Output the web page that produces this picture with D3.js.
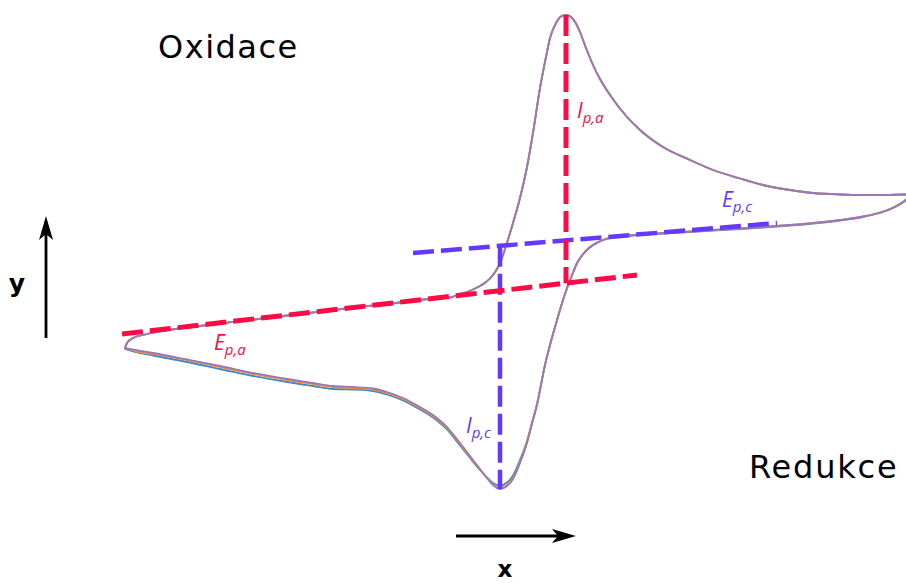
<!DOCTYPE html>
<html>
<head>
<meta charset="utf-8">
<script src="https://cdn.jsdelivr.net/npm/d3@7"></script>
<style>
  html, body { margin: 0; padding: 0; background: #ffffff; }
  svg { display: block; }
</style>
</head>
<body>
<svg id="chart" width="906" height="583"></svg>
<script>
// Cyclic voltammogram: potential E (mV) against current I (µA), three cycles.

// Forward (anodic) sweep, shared by all cycles
const anodicE = [-200, -198, -192, -178, -125, -75, -25, 25, 75, 105, 125, 135, 142, 148, 155, 161, 165, 172, 175, 180,
  188, 195, 202, 208, 215, 221, 225, 231, 236, 241, 246, 251, 255, 261, 268, 275, 285, 302, 315, 338,
  365, 388, 415, 438, 465, 488, 515, 538, 560, 580, 585];
const anodicI = [-9.8, -9.3, -8.8, -8.4, -7.6, -7.0, -6.4, -5.8, -5.25, -4.9, -4.75, -4.4, -4.2, -3.95, -3.6, -3.2, -2.85, -1.9, -1.3, 0.1,
  2.7, 5.2, 8.3, 11.7, 16.2, 19.3, 21.2, 22.7, 23.35, 23.5, 23.3, 22.65, 21.8, 20.2, 18.5, 17.1, 15.5, 13.3, 12.0, 10.3,
  9.0, 8.0, 7.15, 6.5, 6.0, 5.7, 5.55, 5.5, 5.5, 5.55, 5.45];

// Reverse (cathodic) sweep, one current trace per cycle
const cathodicE = [585, 580, 573, 565, 553, 538, 515, 488, 465, 438, 415, 388, 365, 338, 315, 295, 282, 273, 265, 258,
  252, 247, 242, 237, 232, 225, 220, 212, 207, 202, 195, 188, 182, 175, 168, 162, 155, 145, 135, 128,
  122, 112, 102, 95, 78, 62, 48, 28, 8, -12, -38, -72, -105, -138, -172, -190, -200];
const cathodicI1 = [5.45, 4.9, 4.45, 4.05, 3.65, 3.3, 2.95, 2.65, 2.45, 2.25, 2.1, 1.95, 1.8, 1.65, 1.5, 1.3, 1.1, 0.75, 0.25, -0.45,
  -1.35, -2.55, -3.85, -5.35, -7.05, -9.5, -11.5, -15.4, -17.25, -19.1, -21.0, -22.55, -23.25, -23.55, -23.3, -22.75, -22.0, -20.8, -19.55, -18.65,
  -17.95, -17.05, -16.35, -15.95, -15.05, -14.45, -14.1, -13.95, -13.9, -13.6, -13.2, -12.6, -11.9, -11.2, -10.55, -10.2, -9.9];
const cathodicI2 = [5.45, 4.95, 4.5, 4.1, 3.7, 3.35, 3.0, 2.7, 2.5, 2.3, 2.15, 2.0, 1.85, 1.7, 1.55, 1.35, 1.15, 0.8, 0.3, -0.4,
  -1.3, -2.5, -3.8, -5.3, -7.0, -9.5, -11.5, -15.45, -17.35, -19.2, -21.2, -22.8, -23.5, -23.8, -23.45, -22.8, -21.95, -20.7, -19.4, -18.5,
  -17.8, -16.9, -16.2, -15.8, -14.9, -14.3, -13.95, -13.8, -13.7, -13.4, -13.0, -12.4, -11.7, -11.0, -10.4, -10.1, -9.85];
const cathodicI3 = [5.45, 4.95, 4.5, 4.1, 3.7, 3.35, 3.0, 2.7, 2.5, 2.3, 2.15, 2.0, 1.85, 1.7, 1.55, 1.35, 1.15, 0.8, 0.3, -0.4,
  -1.3, -2.5, -3.8, -5.3, -7.0, -9.5, -11.5, -15.5, -17.4, -19.3, -21.3, -22.9, -23.6, -23.9, -23.5, -22.8, -21.9, -20.6, -19.3, -18.4,
  -17.7, -16.8, -16.1, -15.7, -14.8, -14.2, -13.85, -13.7, -13.6, -13.3, -12.9, -12.3, -11.6, -10.95, -10.3, -10.0, -9.8];

const cycleColors = ["#3a8cc4", "#ff8c2a", "#9a78b8"];

// Peak construction: baselines (E, I endpoints) and peak positions
const anodicBaseline = [[-203, -8.4], [312, -2.5]];
const cathodicBaseline = [[88, -0.3], [452, 2.7]];
const anodicPeak = [241, 23.5];
const cathodicPeak = [175, -23.9];

const red = "#ff0a45";
const violet = "#6438ff";

// Peak labels: letter, subscript, anchor (E, I), colour
const peakLabels = [
  { main: "E", sub: "p,a", at: [-111, -10.0], color: red },
  { main: "I", sub: "p,a", at: [252, 13.2], color: red },
  { main: "E", sub: "p,c", at: [397, 4.3], color: violet },
  { main: "I", sub: "p,c", at: [141, -18.3], color: violet }
];

const svg = d3.select("#chart");

const x = d3.scaleLinear().domain([-200, 600]).range([125, 925]);
const y = d3.scaleLinear().domain([-25, 25]).range([500, 0]);

const branchLine = d3.line()
  .x(d => x(d[0]))
  .y(d => y(d[1]))
  .curve(d3.curveMonotoneX);

// Voltammogram cycles: forward and reverse branch of each
const forward = anodicE.map((e, i) => [e, anodicI[i]]);
[cathodicI1, cathodicI2, cathodicI3].forEach((ci, k) => {
  const reverse = cathodicE.map((e, i) => [e, ci[i]]).reverse();
  const g = svg.append("g")
    .attr("fill", "none")
    .attr("stroke", cycleColors[k])
    .attr("stroke-width", 1.8)
    .attr("stroke-linejoin", "round")
    .attr("stroke-linecap", "round");
  g.append("path").attr("d", branchLine(forward));
  g.append("path").attr("d", branchLine(reverse));
});

// Baseline value at a given potential
function baseAt(base, e) {
  const [[e0, i0], [e1, i1]] = base;
  return i0 + (e - e0) * (i1 - i0) / (e1 - e0);
}

function dashed(points, color, width) {
  svg.append("path")
    .attr("d", d3.line().x(d => x(d[0])).y(d => y(d[1]))(points))
    .attr("fill", "none")
    .attr("stroke", color)
    .attr("stroke-width", width)
    .attr("stroke-dasharray", "21,7");
}

// Cathodic construction
dashed(cathodicBaseline, violet, 4.5);
dashed([[cathodicPeak[0], baseAt(cathodicBaseline, cathodicPeak[0])], cathodicPeak], violet, 4.5);
// Anodic construction
dashed(anodicBaseline, red, 5);
dashed([anodicPeak, [anodicPeak[0], baseAt(anodicBaseline, anodicPeak[0])]], red, 5);

// Peak labels
peakLabels.forEach(l => {
  const t = svg.append("text")
    .attr("x", x(l.at[0]))
    .attr("y", y(l.at[1]))
    .attr("font-family", "'Open Sans', 'Noto Sans', sans-serif")
    .attr("font-style", "italic")
    .attr("fill", l.color);
  t.append("tspan").attr("font-size", 21).text(l.main);
  t.append("tspan").attr("font-size", 15).attr("dy", 5).text(l.sub);
});

// Region titles
svg.append("text").attr("x", 158).attr("y", 58)
  .attr("font-family", "'DejaVu Sans', sans-serif").attr("font-size", 32)
  .attr("letter-spacing", 1.5).attr("fill", "#000").text("Oxidace");
svg.append("text").attr("x", 749).attr("y", 478)
  .attr("font-family", "'DejaVu Sans', sans-serif").attr("font-size", 32)
  .attr("letter-spacing", 1.8).attr("fill", "#000").text("Redukce");

// Axis direction arrows
function arrowHead(tx, ty, dx, dy) {
  // tip at (tx, ty), pointing along unit (dx, dy)
  const len = 24, notch = 18, half = 7;
  const px = -dy, py = dx;
  const bx = tx - dx * len, by = ty - dy * len;
  const nx = tx - dx * notch, ny = ty - dy * notch;
  return `M${tx},${ty}L${bx + px * half},${by + py * half}L${nx},${ny}L${bx - px * half},${by - py * half}Z`;
}

svg.append("line").attr("x1", 46).attr("y1", 338).attr("x2", 46).attr("y2", 232)
  .attr("stroke", "#000").attr("stroke-width", 2.8);
svg.append("path").attr("d", arrowHead(46, 216, 0, -1)).attr("fill", "#000");

svg.append("line").attr("x1", 456).attr("y1", 536).attr("x2", 560).attr("y2", 536)
  .attr("stroke", "#000").attr("stroke-width", 2.8);
svg.append("path").attr("d", arrowHead(576, 536, 1, 0)).attr("fill", "#000");

svg.append("text").attr("x", 17).attr("y", 292).attr("text-anchor", "middle")
  .attr("font-family", "'DejaVu Sans', sans-serif").attr("font-weight", "bold")
  .attr("font-size", 25).attr("fill", "#000").text("y");
svg.append("text").attr("x", 505).attr("y", 577).attr("text-anchor", "middle")
  .attr("font-family", "'DejaVu Sans', sans-serif").attr("font-weight", "bold")
  .attr("font-size", 23).attr("fill", "#000").text("x");
</script>
</body>
</html>
